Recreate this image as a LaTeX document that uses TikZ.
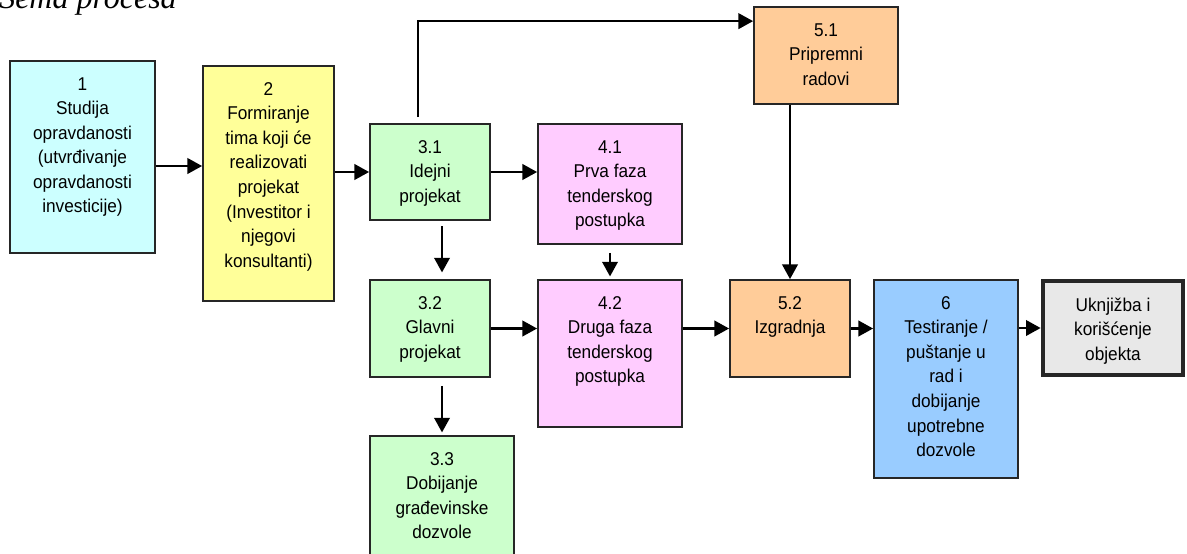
\documentclass[tikz,border=0pt]{standalone}
\usepackage{fontspec}
\setmainfont{Liberation Sans}[FakeStretch=0.93]
\newfontfamily\naslovfont{Liberation Serif}
\usetikzlibrary{arrows.meta,fit,calc}

\definecolor{plava1}{HTML}{CCFFFF}
\definecolor{zuta}{HTML}{FFFF99}
\definecolor{zelena}{HTML}{CCFFCC}
\definecolor{roze}{HTML}{FFCCFF}
\definecolor{narandz}{HTML}{FFCC99}
\definecolor{plava2}{HTML}{99CCFF}
\definecolor{siva}{HTML}{E8E8E8}

\tikzset{
	kutija/.style={draw=black!85, line width=1.3pt, inner sep=0pt},
	tekst/.style={anchor=north, align=center, inner sep=0pt, font=\fontsize{13.9}{18.4}\selectfont},
	strelica/.style={line width=2pt, -{Triangle[length=11pt,width=11.5pt]}},
}

\begin{document}
\begin{tikzpicture}[x=0.75pt, y=-0.75pt]
	\useasboundingbox (0,0) rectangle (1187,553);
	
	%Naslov
	\node[anchor=base west, inner sep=0pt, font=\naslovfont\itshape\fontsize{24}{28}\selectfont] (naslov) at (-1,8) {Šema procesa};
	
	%Kutije
	\node[kutija, fill=plava1, fit={(10,61) (155,253)}] (b1) {};
	\node[kutija, fill=zuta, fit={(203,66) (334,301)}] (b2) {};
	\node[kutija, fill=zelena, fit={(370,124) (490,220)}] (b31) {};
	\node[kutija, fill=roze, fit={(538,124) (682,244)}] (b41) {};
	\node[kutija, fill=zelena, fit={(370,280) (490,377)}] (b32) {};
	\node[kutija, fill=roze, fit={(538,280) (682,427)}] (b42) {};
	\node[kutija, fill=zelena, fit={(370,436) (514,570)}] (b33) {};
	\node[kutija, fill=narandz, fit={(754,7) (898,104)}] (b51) {};
	\node[kutija, fill=narandz, fit={(730,280) (850,377)}] (b52) {};
	\node[kutija, fill=plava2, fit={(874,280) (1018,478)}] (b6) {};
	\node[kutija, fill=siva, line width=3.5pt, fit={(1043,281) (1183,375)}] (bu) {};
	
	%Tekst
	\node[tekst] (t1) at ($(b1.north)+(0,17)$) {1\\Studija\\opravdanosti\\(utvrđivanje\\opravdanosti\\investicije)};
	\node[tekst] (t2) at ($(b2.north)+(0,17)$) {2\\Formiranje\\tima koji će\\realizovati\\projekat\\(Investitor i\\njegovi\\konsultanti)};
	\node[tekst] (t31) at ($(b31.north)+(0,17)$) {3.1\\Idejni\\projekat};
	\node[tekst] (t41) at ($(b41.north)+(0,17)$) {4.1\\Prva faza\\tenderskog\\postupka};
	\node[tekst] (t32) at ($(b32.north)+(0,17)$) {3.2\\Glavni\\projekat};
	\node[tekst] (t42) at ($(b42.north)+(0,17)$) {4.2\\Druga faza\\tenderskog\\postupka};
	\node[tekst] (t33) at ($(b33.north)+(0,17)$) {3.3\\Dobijanje\\građevinske\\dozvole};
	\node[tekst] (t51) at ($(b51.north)+(0,17)$) {5.1\\Pripremni\\radovi};
	\node[tekst] (t52) at ($(b52.north)+(0,17)$) {5.2\\Izgradnja};
	\node[tekst] (t6) at ($(b6.north)+(0,17)$) {6\\Testiranje /\\puštanje u\\rad i\\dobijanje\\upotrebne\\dozvole};
	\node[tekst] (tu) at ($(bu.north)+(0,19)$) {Uknjižba i\\korišćenje\\objekta};
	
	%Strelice
	\draw[strelica] (b1.east |- 0,166) -- (b2.west |- 0,166);
	\draw[strelica] (b2.east |- b31) -- (b31);
	\draw[strelica] (b31) -- (b41.west |- b31);
	\draw[strelica, shorten <=4.5pt] ($(b31.north)+(-12,0)$) |- ($(b51.north west)+(0,15)$);
	\draw[strelica, shorten <=4pt, shorten >=5pt] (b33.north |- b31.south) -- (b33.north |- b32.north);
	\draw[strelica, shorten <=6pt, shorten >=2pt] (b41) -- (b42);
	\draw[strelica, shorten <=6pt, shorten >=2pt] (b32.south -| b33.north) -- (b33.north);
	\draw[strelica] (b52.north |- b51.south) -- (b52.north);
	\draw[strelica] (b32) -- (b42.west |- b32);
	\draw[strelica] (b42.east |- b52) -- (b52);
	\draw[strelica] (b52) -- (b6.west |- b52);
	\draw[strelica] (b6.east |- bu) -- (bu);
\end{tikzpicture}
\end{document}
